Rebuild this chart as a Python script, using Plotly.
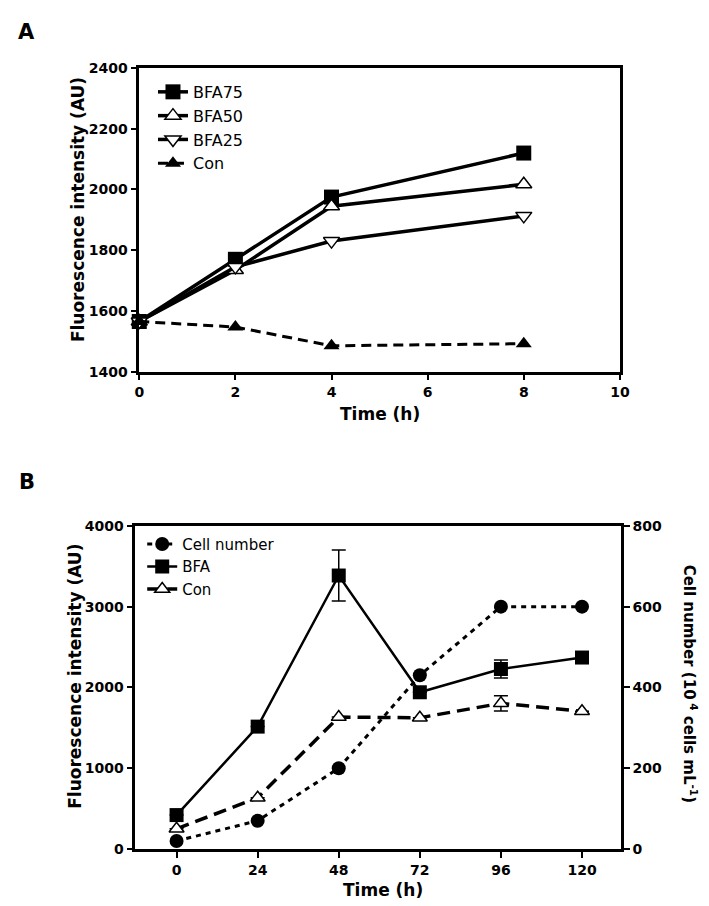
import plotly.graph_objects as go

# ---------------- Panel A data ----------------
time_a = [0, 2, 4, 8]
bfa75 = [1565, 1770, 1975, 2120]
bfa50 = [1565, 1735, 1945, 2017]
bfa25 = [1565, 1745, 1830, 1913]
con_a = [1565, 1547, 1485, 1492]
a_xticks = [0, 2, 4, 6, 8, 10]
a_yticks = [1400, 1600, 1800, 2000, 2200, 2400]

# ---------------- Panel B data ----------------
time_b = [0, 24, 48, 72, 96, 120]
cell_number = [20, 70, 200, 430, 600, 600]
bfa_b = [420, 1515, 3385, 1940, 2228, 2370]
bfa_b_err = [None, None, 315, None, 110, None]
con_b = [250, 635, 1633, 1625, 1803, 1705]
con_b_err = [None, None, None, None, 95, None]
b_xticks = [0, 24, 48, 72, 96, 120]
b_yticks_left = [0, 1000, 2000, 3000, 4000]
b_yticks_right = [0, 200, 400, 600, 800]

W, H = 709, 906
def px(x):
    return x / W
def py(y):
    return 1 - y / H

TICKFONT = dict(family="DejaVu Sans", size=14, color="black", weight="bold")
TITLEFONT = dict(family="DejaVu Sans", size=17, color="black", weight="bold")

fig = go.Figure()

# ----- Panel A traces -----
fig.add_trace(go.Scatter(
    x=time_a, y=bfa75, name="BFA75", mode="lines+markers",
    line=dict(color="black", width=3.5),
    marker=dict(symbol="square", size=15, color="black"),
    xaxis="x", yaxis="y", legend="legend", cliponaxis=False))
fig.add_trace(go.Scatter(
    x=time_a, y=bfa50, name="BFA50", mode="lines+markers",
    line=dict(color="black", width=3.5),
    marker=dict(symbol="triangle-up", size=14, color="white",
                line=dict(color="black", width=1.5)),
    xaxis="x", yaxis="y", legend="legend", cliponaxis=False))
fig.add_trace(go.Scatter(
    x=time_a, y=bfa25, name="BFA25", mode="lines+markers",
    line=dict(color="black", width=3.5),
    marker=dict(symbol="triangle-down", size=14, color="white",
                line=dict(color="black", width=1.5)),
    xaxis="x", yaxis="y", legend="legend", cliponaxis=False))
fig.add_trace(go.Scatter(
    x=time_a, y=con_a, name="Con", mode="lines+markers",
    line=dict(color="black", width=3, dash="10px,6px"),
    marker=dict(symbol="triangle-up", size=14, color="black"),
    xaxis="x", yaxis="y", legend="legend", cliponaxis=False))

# ----- Panel B traces -----
fig.add_trace(go.Scatter(
    x=time_b, y=cell_number, name="Cell number", mode="lines+markers",
    line=dict(color="black", width=3, dash="5px,5px"),
    marker=dict(symbol="circle", size=14, color="black"),
    xaxis="x2", yaxis="y4", legend="legend2", cliponaxis=False))
fig.add_trace(go.Scatter(
    x=time_b, y=bfa_b, name="BFA", mode="lines+markers",
    line=dict(color="black", width=2.5),
    marker=dict(symbol="square", size=14, color="black"),
    error_y=dict(type="data", array=bfa_b_err, visible=True,
                 color="black", thickness=1.5, width=7),
    xaxis="x2", yaxis="y3", legend="legend2", cliponaxis=False))
fig.add_trace(go.Scatter(
    x=time_b, y=con_b, name="Con", mode="lines+markers",
    line=dict(color="black", width=3.5, dash="13px,7px"),
    marker=dict(symbol="triangle-up", size=13, color="white",
                line=dict(color="black", width=1.5)),
    error_y=dict(type="data", array=con_b_err, visible=True,
                 color="black", thickness=1.5, width=7),
    xaxis="x2", yaxis="y3", legend="legend2", cliponaxis=False))

axis_common = dict(
    showline=True, linecolor="black", linewidth=2.5,
    ticks="outside", ticklen=6, tickwidth=2, tickcolor="black",
    showgrid=False, zeroline=False, tickfont=TICKFONT,
)

fig.update_layout(
    width=W, height=H,
    margin=dict(l=0, r=0, t=0, b=0),
    paper_bgcolor="white", plot_bgcolor="white",
    font=dict(family="DejaVu Sans", color="black"),
    xaxis=dict(domain=[px(129), px(620)], anchor="y", range=[0, 10],
               tickvals=a_xticks, mirror=True, **axis_common),
    yaxis=dict(domain=[py(362), py(53)], anchor="x", range=[1400, 2400],
               tickvals=a_yticks, mirror=True, **axis_common),
    xaxis2=dict(domain=[px(125), px(621)], anchor="y3", range=[-12.2, 131.5],
                tickvals=b_xticks, mirror=True, **axis_common),
    yaxis3=dict(domain=[py(848), py(519)], anchor="x2", range=[0, 4000],
                tickvals=b_yticks_left, mirror=True, **axis_common),
    yaxis4=dict(overlaying="y3", anchor="x2", side="right", range=[0, 800],
                tickvals=b_yticks_right, **axis_common),
    legend=dict(x=px(143), y=py(60), xanchor="left", yanchor="top",
                bgcolor="rgba(0,0,0,0)", borderwidth=0,
                font=dict(family="DejaVu Sans", size=16, color="black"),
                traceorder="normal"),
    legend2=dict(x=px(132), y=py(521), xanchor="left", yanchor="top",
                 bgcolor="rgba(0,0,0,0)", borderwidth=0,
                 font=dict(family="DejaVu Sans", size=15, color="black"),
                 traceorder="normal"),
    showlegend=True,
)

annots = [
    dict(text="A", x=px(14), y=py(16), font=dict(family="DejaVu Sans", size=21, weight="bold", color="black")),
    dict(text="B", x=px(14), y=py(474), font=dict(family="DejaVu Sans", size=21, weight="bold", color="black")),
    dict(text="Fluorescence intensity (AU)", x=px(66), y=py(197), textangle=-90, font=TITLEFONT),
    dict(text="Time (h)", x=px(375), y=py(405), font=TITLEFONT),
    dict(text="Fluorescence intensity (AU)", x=px(63), y=py(672), textangle=-90, font=TITLEFONT),
    dict(text="Time (h)", x=px(378), y=py(890), font=TITLEFONT),
    dict(text="Cell number (10<sup> 4</sup> cells mL<sup>-1</sup>)", x=px(692), y=py(680),
         textangle=90, font=dict(family="DejaVu Sans", size=15, color="black", weight="bold")),
]
for a in annots:
    a.update(xref="paper", yref="paper", showarrow=False, xanchor="center", yanchor="middle")
fig.update_layout(annotations=annots)

fig.write_html("out.html")
